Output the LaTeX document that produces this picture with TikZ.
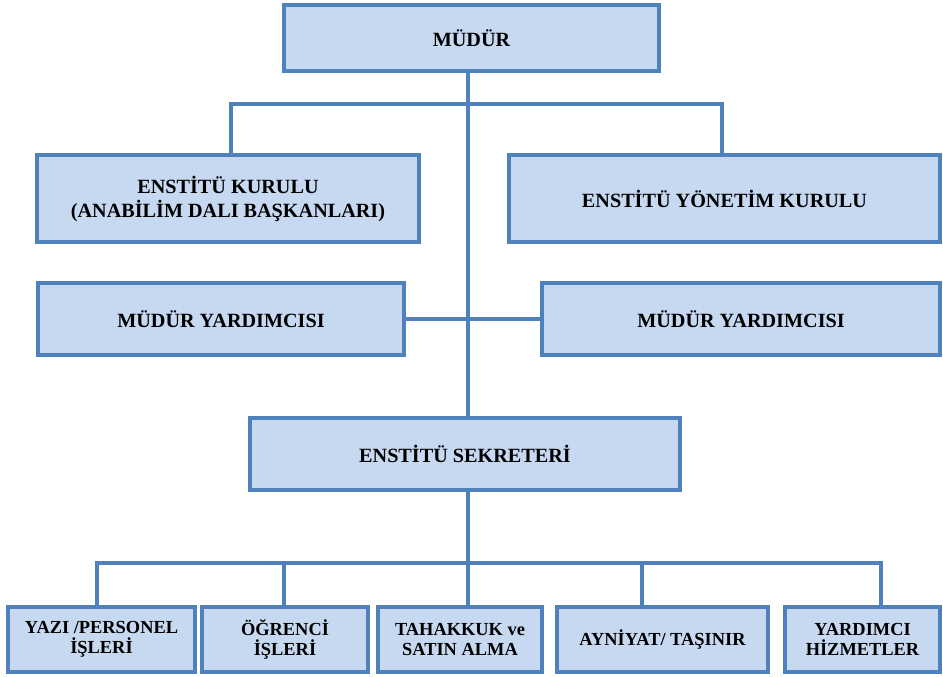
\documentclass[tikz,border=0pt]{standalone}
\usepackage{fontspec}
\setmainfont{Liberation Serif}
\usepackage{xcolor}
\definecolor{boxfill}{HTML}{C6D9F1}
\definecolor{boxline}{HTML}{4F81BD}

\begin{document}
\begin{tikzpicture}[x=1pt, y=-1pt,
  orgbox/.style={rectangle, draw=boxline, fill=boxfill, line width=3.5pt, align=center, inner sep=0pt, font=\bfseries\fontsize{20.2}{24}\selectfont},
  lowbox/.style={orgbox, minimum height=65pt, font=\bfseries\fontsize{18.4}{20.5}\selectfont},
  link/.style={draw=boxline, line width=3.2pt}]

\useasboundingbox (0,0) rectangle (943,677);

% upper levels
\node[orgbox, minimum width=375pt, minimum height=66pt] (mudur) at (471.5,38) {MÜDÜR};
\node[orgbox, minimum width=382pt, minimum height=87pt] (kurul) at (228,198.5) {ENSTİTÜ KURULU\\(ANABİLİM DALI BAŞKANLARI)};
\node[orgbox, minimum width=431pt, minimum height=87pt] (yonetim) at (724.5,198.5) {ENSTİTÜ YÖNETİM KURULU};
\node[orgbox, minimum width=366pt, minimum height=72pt] (yardL) at (221,319) {MÜDÜR YARDIMCISI};
\node[orgbox, minimum width=398pt, minimum height=72pt] (yardR) at (741,319) {MÜDÜR YARDIMCISI};
\node[orgbox, minimum width=430pt, minimum height=72pt] (sekreter) at (465,454) {ENSTİTÜ SEKRETERİ};

% units
\node[lowbox, minimum width=187pt] (b1) at (101.5,639.5) {YAZI /PERSONEL\\İŞLERİ};
\node[lowbox, minimum width=166pt] (b2) at (285,639.5) {ÖĞRENCİ\\İŞLERİ};
\node[lowbox, minimum width=164pt] (b3) at (460,639.5) {TAHAKKUK ve\\SATIN ALMA};
\node[lowbox, minimum width=211pt] (b4) at (662.5,639.5) {AYNİYAT/ TAŞINIR};
\node[lowbox, minimum width=155pt] (b5) at (862.5,639.5) {YARDIMCI\\HİZMETLER};

% connectors
\coordinate (upL) at (231,104);
\coordinate (upbus) at (468,104);
\coordinate (upR) at (722,104);
\draw[link] (kurul.north -| upL) -- (upL) -- (upR) -- (yonetim.north -| upR);
\draw[link] (mudur.south -| upbus) -- (sekreter.north -| upbus);
\draw[link] (yardL.east) -- (yardR.west);

\coordinate (tap1) at (97,563);
\coordinate (tap2) at (284,563);
\coordinate (tap3) at (468,563);
\coordinate (tap4) at (642,563);
\coordinate (tap5) at (881,563);
\draw[link] (sekreter.south -| tap3) -- (tap3);
\draw[link] (tap1 |- b1.north) -- (tap1) -- (tap5) -- (tap5 |- b5.north);
\foreach \i in {2,3,4}
{
	\draw[link] (tap\i) -- (tap\i |- b\i.north);
}

\end{tikzpicture}
\end{document}
